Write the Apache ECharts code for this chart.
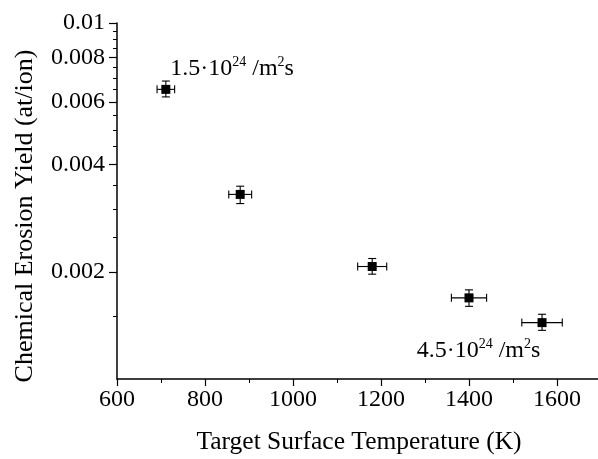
<!DOCTYPE html>
<html>
<head>
<meta charset="utf-8">
<title>Chemical erosion yield</title>
<script src="https://cdn.jsdelivr.net/npm/echarts@6/dist/echarts.min.js"></script>
<style>
    html, body { margin: 0; padding: 0; background: #fff; }
    #chart { width: 598px; height: 459px; }
</style>
</head>
<body>
<div id="chart"></div>
<script>
// measured points (temperature in K, yield in at/ion)
var temps = [711, 880, 1180, 1400, 1566];
var yields = [0.00651, 0.0033, 0.00207, 0.00169, 0.00144];
var tempErr = [20, 26, 33, 40, 46];
var yieldLow = [0.0062, 0.00311, 0.00197, 0.0016, 0.00137];
var yieldHigh = [0.00687, 0.00348, 0.00218, 0.00178, 0.00152];

// tick values
var xMajorTicks = [600, 800, 1000, 1200, 1400, 1600];
var xMinorTicks = [700, 900, 1100, 1300, 1500, 1700];
var yMajorTicks = [0.002, 0.004, 0.006, 0.008, 0.01];
var yMinorTicks = [0.0015, 0.0025, 0.003, 0.0035, 0.0045, 0.005, 0.0055,
                   0.0065, 0.007, 0.0075, 0.0085, 0.009, 0.0095];

// flux annotations, anchored in data space
var noteX = [721, 1281];
var noteY = [0.00748, 0.001207];
var noteText = ['1.5·10', '4.5·10'];

var FONT = '"Liberation Serif", "Times New Roman", serif';

var chart = echarts.init(document.getElementById('chart'));

var barData = [];
var pointData = [];
for (var i = 0; i < temps.length; i++) {
    barData.push([temps[i], tempErr[i], yieldLow[i], yieldHigh[i], yields[i]]);
    pointData.push([temps[i], yields[i]]);
}
var noteData = [];
for (var j = 0; j < noteX.length; j++) {
    noteData.push({value: [noteX[j], noteY[j]], note: noteText[j]});
}

function renderBars(params, api) {
    var x = api.value(0), e = api.value(1), lo = api.value(2), hi = api.value(3), y = api.value(4);
    var c = api.coord([x, y]);
    var l = api.coord([x - e, y]);
    var r = api.coord([x + e, y]);
    var t = api.coord([x, hi]);
    var b = api.coord([x, lo]);
    var cap = 4;
    var style = {stroke: '#000', lineWidth: 1.1};
    function seg(x1, y1, x2, y2) {
        return {type: 'line', shape: {x1: x1, y1: y1, x2: x2, y2: y2}, style: style};
    }
    return {
        type: 'group',
        children: [
            seg(l[0], c[1], r[0], c[1]),
            seg(l[0], c[1] - cap, l[0], c[1] + cap),
            seg(r[0], c[1] - cap, r[0], c[1] + cap),
            seg(c[0], t[1], c[0], b[1]),
            seg(c[0] - cap, t[1], c[0] + cap, t[1]),
            seg(c[0] - cap, b[1], c[0] + cap, b[1])
        ]
    };
}

var option = {
    backgroundColor: '#fff',
    animation: false,
    textStyle: {fontFamily: FONT, color: '#000'},
    grid: {left: 117, top: 23, right: -3, bottom: 80, containLabel: false, outerBoundsMode: 'none'},
    xAxis: [
        {
            type: 'value',
            min: 600,
            max: 1700,
            name: 'Target Surface Temperature (K)',
            nameLocation: 'middle',
            nameGap: 50,
            nameTextStyle: {fontFamily: FONT, fontSize: 25.5, color: '#000'},
            axisLine: {show: true, lineStyle: {color: '#000', width: 1.5}},
            axisTick: {show: true, inside: false, length: 7, customValues: xMajorTicks,
                       lineStyle: {color: '#000', width: 1.2}},
            axisLabel: {show: true, customValues: xMajorTicks, margin: 9,
                        fontFamily: FONT, fontSize: 24, color: '#000',
                        formatter: function (v) { return String(v); }},
            splitLine: {show: false}
        },
        {
            type: 'value',
            min: 600,
            max: 1700,
            position: 'bottom',
            axisLine: {show: false},
            axisTick: {show: true, inside: false, length: 4, customValues: xMinorTicks,
                       lineStyle: {color: '#000', width: 1}},
            axisLabel: {show: false},
            splitLine: {show: false}
        }
    ],
    yAxis: [
        {
            type: 'log',
            logBase: 10,
            min: 0.001,
            max: 0.01,
            axisLine: {show: true, lineStyle: {color: '#000', width: 1.5}},
            axisTick: {show: true, inside: false, length: 8, customValues: yMajorTicks,
                       lineStyle: {color: '#000', width: 1.2}},
            axisLabel: {show: true, customValues: yMajorTicks, margin: 12,
                        fontFamily: FONT, fontSize: 24, color: '#000',
                        formatter: function (v) { return String(+v.toPrecision(3)); }},
            splitLine: {show: false}
        },
        {
            type: 'log',
            logBase: 10,
            min: 0.001,
            max: 0.01,
            position: 'left',
            axisLine: {show: false},
            axisTick: {show: true, inside: false, length: 4, customValues: yMinorTicks,
                       lineStyle: {color: '#000', width: 1}},
            axisLabel: {show: false},
            splitLine: {show: false}
        }
    ],
    graphic: [
        {
            type: 'text',
            x: 25,
            y: 216,
            rotation: Math.PI / 2,
            style: {
                text: 'Chemical Erosion Yield (at/ion)',
                font: '26px ' + FONT,
                fill: '#000',
                align: 'center',
                verticalAlign: 'middle'
            }
        }
    ],
    series: [
        {
            name: 'errors',
            type: 'custom',
            renderItem: renderBars,
            encode: {x: 0, y: 4},
            data: barData,
            z: 2
        },
        {
            name: 'yield',
            type: 'scatter',
            symbol: 'rect',
            symbolSize: 9,
            itemStyle: {color: '#000', opacity: 1},
            data: pointData,
            z: 3
        },
        {
            name: 'notes',
            type: 'scatter',
            symbolSize: 0,
            silent: true,
            itemStyle: {color: '#000', opacity: 1},
            data: noteData,
            label: {
                show: true,
                position: 'right',
                distance: 0,
                color: '#000',
                formatter: function (p) {
                    return '{a|' + p.data.note + '}{s|24}{a| /m}{s|2}{a|s}';
                },
                rich: {
                    a: {fontFamily: FONT, fontSize: 24, color: '#000', lineHeight: 26, verticalAlign: 'bottom'},
                    s: {fontFamily: FONT, fontSize: 14, color: '#000', lineHeight: 14, verticalAlign: 'top'}
                }
            }
        }
    ]
};

chart.setOption(option);
</script>
</body>
</html>
